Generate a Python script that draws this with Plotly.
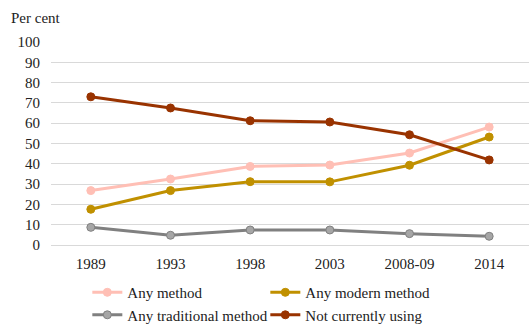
import plotly.graph_objects as go

years = ["1989", "1993", "1998", "2003", "2008-09", "2014"]
any_method = [26.8, 32.5, 38.7, 39.4, 45.3, 58.1]
any_modern = [17.6, 26.8, 31.2, 31.1, 39.3, 53.2]
any_traditional = [8.7, 4.8, 7.4, 7.4, 5.6, 4.3]
not_using = [73.0, 67.5, 61.2, 60.6, 54.3, 41.9]

series = [
    ("Any method", any_method, "#FFBFB5", "#FFBFB5", "#FFBFB5"),
    ("Any modern method", any_modern, "#C09000", "#C09000", "#C09000"),
    ("Any traditional method", any_traditional, "#808080", "#A6A6A6", "#808080"),
    ("Not currently using", not_using, "#993300", "#993300", "#993300"),
]

FONT = "Liberation Serif"

fig = go.Figure()
for name, vals, line_c, fill_c, edge_c in series:
    fig.add_trace(go.Scatter(
        x=years, y=vals, name=name, mode="lines+markers",
        line=dict(color=line_c, width=3),
        marker=dict(symbol="circle", size=8, color=fill_c,
                    line=dict(color=edge_c, width=1)),
    ))

fig.update_layout(
    width=529, height=326,
    margin=dict(l=51, r=0, t=42, b=81, autoexpand=False),
    paper_bgcolor="white", plot_bgcolor="white",
    font=dict(family=FONT, size=15, color="#222222"),
    showlegend=True,
    legend=dict(
        orientation="h", x=0.076, xanchor="left", y=-0.153, yanchor="top",
        entrywidth=133, font=dict(family=FONT, size=15, color="#222222"),
        itemclick=False, bgcolor="rgba(0,0,0,0)",
    ),
    xaxis=dict(
        type="category", range=[-0.5, 5.5], showgrid=False, zeroline=False,
        showline=False, ticks="", tickfont=dict(size=15), ticklabelstandoff=8,
    ),
    yaxis=dict(
        range=[0, 100], dtick=10, showgrid=True, gridcolor="#D9D9D9",
        gridwidth=1, zeroline=True, zerolinecolor="#D9D9D9", zerolinewidth=1,
        showline=False, ticks="", tickfont=dict(size=15), ticklabelstandoff=10,
    ),
    annotations=[dict(
        text="Per cent", xref="paper", yref="paper", x=-42 / 478, y=1,
        xanchor="left", yanchor="bottom", yshift=14, showarrow=False,
        font=dict(family=FONT, size=15, color="#222222"),
    )],
)

fig.write_html("out.html")
